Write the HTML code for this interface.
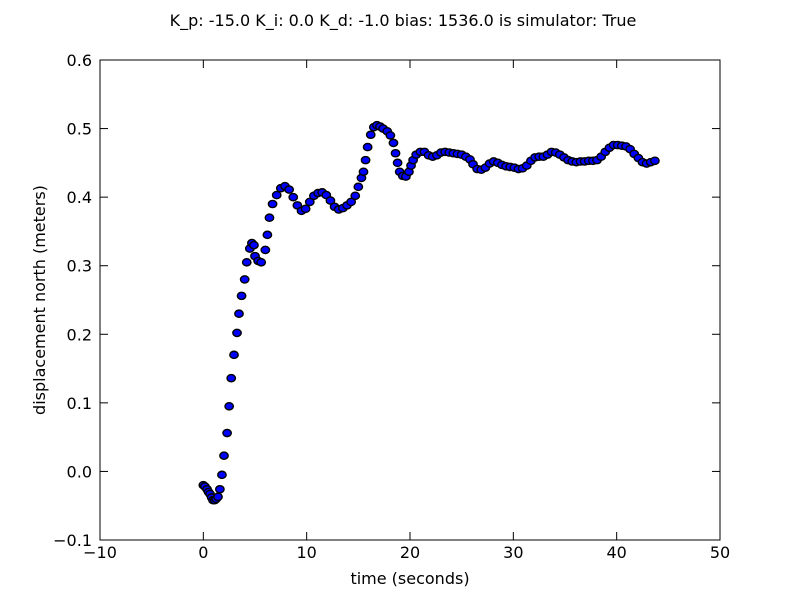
<!DOCTYPE html>
<html><head><meta charset="utf-8"><style>
html,body{margin:0;padding:0;background:#fff;}
svg{display:block;font-family:"DejaVu Sans","Liberation Sans",sans-serif;}
</style></head><body>
<svg id="chart" width="800" height="600">
<rect x="0" y="0" width="800" height="600" fill="#fff"/>
<text x="403" y="26" text-anchor="middle" font-size="16">K_p: -15.0 K_i: 0.0 K_d: -1.0 bias: 1536.0 is simulator: True</text>
<g id="ticks"></g>
<g id="points"></g>
<rect x="100" y="60" width="620" height="480" fill="none" stroke="#000" stroke-width="1"/>
<text x="410" y="584" text-anchor="middle" font-size="16">time (seconds)</text>
<text x="45" y="300" text-anchor="middle" font-size="16" transform="rotate(-90 45 300)">displacement north (meters)</text>
</svg>
<script>
const xTicks=[-10,0,10,20,30,40,50];
const yTicks=[-0.1,0.0,0.1,0.2,0.3,0.4,0.5,0.6];
const times=[0.0,0.15,0.36,0.5,0.65,0.8,0.94,1.1,1.25,1.42,1.6,1.8,2.0,2.3,2.5,2.7,2.97,3.26,3.45,3.7,4.0,4.2,4.5,4.7,4.9,5.0,5.3,5.6,6.0,6.2,6.4,6.7,
7.1,7.5,7.9,8.3,8.7,9.1,9.5,9.9,10.3,10.7,11.1,11.5,11.9,12.3,12.7,13.1,13.5,13.9,14.3,14.7,15.0,15.3,15.5,15.7,15.9,16.2,16.5,16.8,17.1,17.4,17.8,18.1,18.4,18.6,18.8,19.0,19.3,19.6,19.9,20.1,20.3,20.6,21.0,21.4,21.8,22.2,22.6,23.0,23.4,23.8,24.2,24.6,25.0,25.4,25.8,26.1,26.5,26.9,27.3,27.7,28.1,28.5,28.9,29.3,29.7,30.1,30.5,30.9,31.3,31.7,32.1,32.5,32.9,33.3,33.7,34.1,34.5,34.9,35.3,35.7,36.1,36.5,36.9,37.3,37.7,38.1,38.5,38.9,39.3,39.7,40.1,40.5,40.9,41.3,41.7,42.1,42.5,42.9,43.3,43.7];
const displacement=[-0.020,-0.022,-0.026,-0.030,-0.033,-0.038,-0.042,-0.042,-0.040,-0.037,-0.026,-0.005,0.023,0.056,0.095,0.136,0.170,0.202,0.230,0.256,0.280,0.305,0.325,0.333,0.330,0.314,0.307,0.305,0.323,0.345,0.370,0.390,
0.403,0.413,0.416,0.411,0.400,0.388,0.380,0.383,0.393,0.402,0.406,0.407,0.403,0.395,0.386,0.382,0.384,0.388,0.393,0.402,0.415,0.428,0.437,0.454,0.473,0.491,0.502,0.505,0.503,0.500,0.496,0.490,0.479,0.464,0.450,0.437,0.431,0.430,0.437,0.446,0.454,0.462,0.466,0.466,0.461,0.459,0.461,0.465,0.466,0.465,0.464,0.463,0.462,0.459,0.455,0.448,0.441,0.440,0.443,0.449,0.452,0.450,0.447,0.445,0.444,0.443,0.441,0.442,0.446,0.453,0.458,0.459,0.459,0.462,0.466,0.465,0.462,0.458,0.454,0.452,0.451,0.452,0.452,0.453,0.453,0.454,0.459,0.466,0.472,0.476,0.476,0.475,0.474,0.470,0.463,0.457,0.451,0.449,0.451,0.453];
const NS='http://www.w3.org/2000/svg';
const X0=100,X1=720,Y0=540,Y1=60;
function sx(v){return X0+(v+10)/60*(X1-X0);}
function sy(v){return Y0-(v+0.1)/0.7*(Y0-Y1);}
const tg=document.getElementById('ticks');
function mk(tag,attrs){const e=document.createElementNS(NS,tag);for(const k in attrs)e.setAttribute(k,attrs[k]);return e;}
xTicks.forEach(v=>{const x=sx(v);
 const a=mk('line',{x1:x,x2:x,y1:540,y2:532,stroke:'#000'});
 
 tg.appendChild(a);
 const b=mk('line',{x1:x,x2:x,y1:60,y2:68,stroke:'#000'});
 
 tg.appendChild(b);
 const t=mk('text',{x:x,y:558,'text-anchor':'middle','font-size':16});
 t.textContent=(v<0?'\u2212':'')+Math.abs(v);
 
 tg.appendChild(t);});
yTicks.forEach(v=>{const y=sy(v);
 const a=mk('line',{x1:100,x2:108,y1:y,y2:y,stroke:'#000'});
 
 tg.appendChild(a);
 const b=mk('line',{x1:712,x2:720,y1:y,y2:y,stroke:'#000'});
 
 tg.appendChild(b);
 const t=mk('text',{x:92,y:y+6,'text-anchor':'end','font-size':16});
 t.textContent=(v<-1e-9?'\u2212':'')+Math.abs(v).toFixed(1);
 
 tg.appendChild(t);});
const pg=document.getElementById('points');
times.forEach((t,i)=>{
 const c=mk('ellipse',{cx:sx(t),cy:sy(displacement[i]),rx:4.2,ry:3.6,fill:'#0000ff',stroke:'#000','stroke-width':1.4});
 
 
 pg.appendChild(c);});
</script>
</body></html>
